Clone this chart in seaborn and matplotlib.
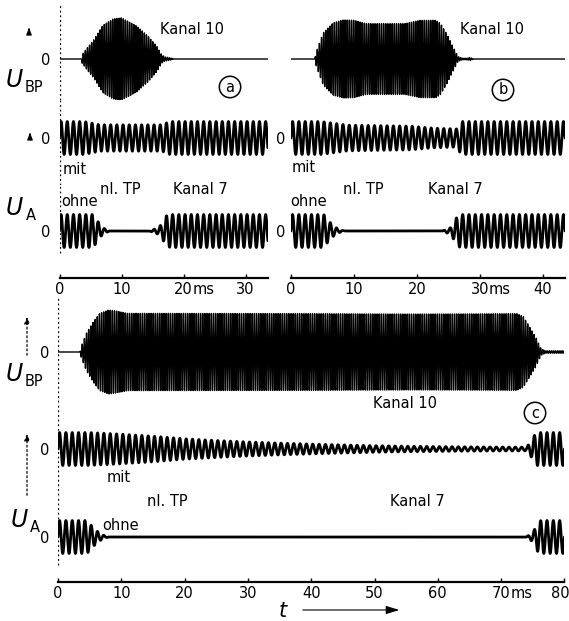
import numpy as np
import matplotlib
matplotlib.use("Agg")
import matplotlib.pyplot as plt
import matplotlib.transforms as mtransforms
import seaborn as sns

# ---------------- data ----------------
# carrier periods (ms)
PERIOD_K7 = 1.0      # Kanal 7 (output U_A)
PERIOD_K10 = 0.34    # Kanal 10 (band-pass U_BP)

T_END_A = 33.6
T_END_B = 43.5
T_END_C = 80.0

# envelope key points: time (ms) / relative amplitude
a_bp_t = [0, 3.55, 3.65, 4.4, 5.5, 7.0, 8.6, 10.0, 12.5, 14.3, 15.7, 16.5, 17.0, 17.8, 18.5, 33.6]
a_bp_a = [0, 0, 0.10, 0.25, 0.45, 0.80, 0.95, 0.98, 0.78, 0.54, 0.30, 0.10, 0.05, 0.03, 0.0, 0.0]
a_mit_t = [0, 4.0, 6.5, 16.5, 17.8, 33.6]
a_mit_a = [1.0, 1.0, 0.8, 0.8, 1.0, 1.0]
a_ohne_t = [0, 5.4, 6.0, 6.5, 7.0, 7.6, 8.2, 14.5, 15.3, 16.0, 16.6, 17.3, 18.0, 33.6]
a_ohne_a = [1, 1, 0.7, 0.4, 0.2, 0.08, 0, 0, 0.12, 0.2, 0.5, 0.95, 1, 1]

b_bp_t = [0, 3.8, 3.9, 5.1, 6.7, 8.3, 10.0, 12.0, 18.0, 20.5, 23.0, 23.7, 24.7, 25.7, 26.5, 27.2, 28.0, 28.4, 29.0, 43.5]
b_bp_a = [0, 0, 0.12, 0.62, 0.86, 0.93, 0.92, 0.84, 0.84, 0.92, 0.92, 0.85, 0.6, 0.3, 0.06, 0.02, 0.02, 0.04, 0, 0]
b_mit_t = [0, 4.8, 9.0, 19.0, 22.5, 26.5, 26.9, 43.5]
b_mit_a = [1.0, 1.0, 0.78, 0.72, 0.6, 0.55, 1.0, 1.0]
b_ohne_t = [0, 5.2, 6.0, 6.8, 7.5, 8.1, 8.6, 24.0, 24.6, 25.3, 25.8, 26.5, 27.0, 43.5]
b_ohne_a = [1, 1, 0.6, 0.3, 0.12, 0.04, 0, 0, 0.1, 0.2, 0.5, 0.95, 1, 1]

c_bp_t = [0, 3.5, 3.6, 4.5, 5.5, 6.6, 8.0, 9.0, 11.0, 30, 50, 72.5, 73.5, 74.5, 75.5, 76.3, 77.0, 80.0]
c_bp_a = [0, 0, 0.10, 0.45, 0.70, 0.92, 1.0, 0.98, 0.92, 0.92, 0.92, 0.92, 0.85, 0.6, 0.35, 0.08, 0.03, 0.03]
c_mit_t = [0, 5, 10, 15, 20, 25, 30, 35, 40, 45, 50, 55, 60, 65, 70, 74.0, 74.8, 75.5, 80]
c_mit_a = [1.0, 1.0, 0.9, 0.78, 0.62, 0.52, 0.43, 0.36, 0.3, 0.25, 0.2, 0.17, 0.15, 0.13, 0.12, 0.11, 0.5, 1.0, 1.0]
c_ohne_t = [0, 4.6, 5.5, 6.5, 7.5, 8.0, 73.8, 74.5, 75.2, 75.8, 76.3, 80]
c_ohne_a = [1, 1, 0.6, 0.25, 0.05, 0, 0, 0.12, 0.4, 0.9, 1, 1]

ticks_a = [0, 10, 20, 30]
ticks_b = [0, 10, 20, 30, 40]
ticks_c = [0, 10, 20, 30, 40, 50, 60, 70, 80]
ms_tick_a, ms_tick_b, ms_tick_c = 20, 30, 70

# ---------------- layout ----------------
W, H = 569, 621
sns.set_theme(style="white")
plt.rcParams["font.family"] = ["DejaVu Sans"]
plt.rcParams["text.color"] = "black"
plt.rcParams["xtick.color"] = "black"
plt.rcParams["ytick.color"] = "black"
plt.rcParams["axes.labelcolor"] = "black"
FS = 10.5

fig = plt.figure(figsize=(W / 100, H / 100), dpi=100)
fig.patch.set_facecolor("white")


def fx(x):
    return x / W


def fy(y):
    return 1 - y / H


def make_row(x0, pxms, tmax, top, bot, zero, ppu):
    ax = fig.add_axes([fx(x0), fy(bot), tmax * pxms / W, (bot - top) / H])
    ax.set_xlim(0, tmax)
    ax.set_ylim(-(bot - zero) / ppu, (zero - top) / ppu)
    ax.patch.set_alpha(0)
    for s in ax.spines.values():
        s.set_visible(False)
    ax.set_xticks([])
    ax.set_yticks([])
    return ax


def trace(ax, tmax, period, env_t, env_a, lw, ppp):
    n = int(tmax / period * ppp) + 1
    t = np.linspace(0, tmax, n)
    env = np.interp(t, env_t, env_a)
    y = env * np.sin(2 * np.pi * t / period)
    sns.lineplot(x=t, y=y, ax=ax, color="black", lw=lw, estimator=None,
                 sort=False, legend=False)
    ax.set_xlabel("")
    ax.set_ylabel("")


def zero_label(ax, pad):
    ax.set_yticks([0])
    ax.set_yticklabels(["0"], fontsize=FS)
    ax.tick_params(axis="y", length=0, pad=pad, left=True, labelleft=True)


def xaxis(ax, ticks, ms_tick):
    ax.spines["bottom"].set_visible(True)
    ax.spines["bottom"].set_linewidth(1.6)
    ax.spines["bottom"].set_color("black")
    ax.set_xticks(ticks)
    ax.set_xticklabels([str(v) for v in ticks], fontsize=FS)
    ax.tick_params(axis="x", direction="in", length=3, width=1, pad=3,
                   bottom=True, colors="black")
    ax.annotate("ms", xy=(ms_tick, 0), xycoords=("data", "axes fraction"),
                xytext=(6.5, -3), textcoords="offset points",
                ha="left", va="top", fontsize=FS)
    return ax


BP_PPU = 42
UA_PPU = 16.5
LW_BP = 1.0
LW_UA = 2.0

panels = [
    dict(x0=59.5, pxms=6.2, tmax=T_END_A,
         rows=[(4, 100, 59), (100, 185, 138), (185, 278, 231)],
         data=[(a_bp_t, a_bp_a), (a_mit_t, a_mit_a), (a_ohne_t, a_ohne_a)],
         ticks=ticks_a, ms=ms_tick_a, vline=(0.27,), labels0=(True, True, True), pad=6.5),
    dict(x0=291, pxms=6.3, tmax=T_END_B,
         rows=[(4, 100, 59), (100, 185, 138), (185, 278, 231)],
         data=[(b_bp_t, b_bp_a), (b_mit_t, b_mit_a), (b_ohne_t, b_ohne_a)],
         ticks=ticks_b, ms=ms_tick_b, vline=None, labels0=(False, True, True), pad=4.0),
    dict(x0=58, pxms=6.33, tmax=T_END_C,
         rows=[(298, 402, 352), (402, 495, 449), (495, 582, 537)],
         data=[(c_bp_t, c_bp_a), (c_mit_t, c_mit_a), (c_ohne_t, c_ohne_a)],
         ticks=ticks_c, ms=ms_tick_c, vline=(0.2,), labels0=(True, True, True), pad=6.0),
]

last_axis = None
for p in panels:
    for i, ((top, bot, zero), (et, ea)) in enumerate(zip(p["rows"], p["data"])):
        is_bp = i == 0
        ax = make_row(p["x0"], p["pxms"], p["tmax"], top, bot, zero,
                      BP_PPU if is_bp else UA_PPU)
        if is_bp:
            trace(ax, p["tmax"], PERIOD_K10, et, ea, LW_BP, 16)
        else:
            trace(ax, p["tmax"], PERIOD_K7, et, ea, LW_UA, 40)
        if p["labels0"][i]:
            zero_label(ax, p["pad"])
        if p["vline"] is not None:
            ymin = p["vline"][0] if i == 2 else 0
            ax.axvline(0, ymin=ymin, ymax=1, color="black", lw=0.9,
                       ls=(0, (1.5, 2.2)))
        if i == 2:
            last_axis = xaxis(ax, p["ticks"], p["ms"])

# nudge the last tick label of the long time axis inside the canvas
lbl = last_axis.get_xticklabels()[-1]
lbl.set_transform(lbl.get_transform() +
                  mtransforms.ScaledTranslation(-4 / 100, 0, fig.dpi_scale_trans))

# ---------------- annotations ----------------
def ftext(x, y, s, **kw):
    kw.setdefault("fontsize", FS)
    kw.setdefault("va", "center")
    fig.text(fx(x), fy(y), s, **kw)


ftext(192, 30, "Kanal 10", ha="center")
ftext(492, 30, "Kanal 10", ha="center")
ftext(405, 403, "Kanal 10", ha="center")

for (x, y, s) in [(230, 87, "a"), (503, 90, "b"), (535, 413, "c")]:
    ftext(x, y, s, ha="center",
          bbox=dict(boxstyle="circle,pad=0.22", fc="none", ec="black", lw=1.1))

# a / b labels
ftext(63, 169, "mit", ha="left")
ftext(292, 168, "mit", ha="left")
ftext(100, 189, "nl. TP", ha="left")
ftext(173, 189, "Kanal 7", ha="left")
ftext(343, 190, "nl. TP", ha="left")
ftext(428, 190, "Kanal 7", ha="left")
ftext(61, 202, "ohne", ha="left")
ftext(290, 201, "ohne", ha="left")
# c labels
ftext(107, 478, "mit", ha="left")
ftext(147, 501, "nl. TP", ha="left")
ftext(390, 501, "Kanal 7", ha="left")
ftext(102, 526, "ohne", ha="left")

# quantity symbols
def usym(x, y, sub, xs, ys):
    ftext(x, y, "U", ha="left", fontsize=17, style="italic")
    ftext(xs, ys, sub, ha="left", fontsize=FS)


usym(6, 80, "BP", 25, 88)
usym(6, 208, "A", 26, 216)
usym(6, 374, "BP", 25, 382)
usym(11, 520, "A", 30, 528)

# small arrows
def uparrow(x, y0, y1, dotted):
    fig.add_artist(matplotlib.patches.FancyArrowPatch(
        (fx(x), fy(y0)), (fx(x), fy(y1)), transform=fig.transFigure,
        arrowstyle="-|>,head_length=4,head_width=1.6", mutation_scale=1,
        color="black", lw=0.9, ls=(0, (1.5, 2)) if dotted else "-"))


uparrow(29, 33, 25, False)
uparrow(30, 138, 130, False)
uparrow(27, 358, 314, True)
uparrow(27, 498, 431, True)

# time axis label
ftext(283, 611, "t", ha="center", fontsize=15, style="italic")
fig.add_artist(matplotlib.patches.FancyArrowPatch(
    (fx(300), fy(610)), (fx(402), fy(610)), transform=fig.transFigure,
    arrowstyle="-|>,head_length=8,head_width=2.5", mutation_scale=1,
    color="black", lw=0.8))

fig.savefig("out.png", dpi=100, facecolor="white")
